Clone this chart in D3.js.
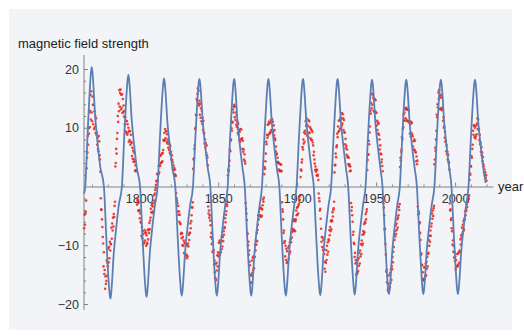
<!DOCTYPE html>
<html>
<head>
<meta charset="utf-8">
<script src="https://cdn.jsdelivr.net/npm/d3@7"></script>
<style>
  body { margin: 0; background: #fff; }
  text { font-family: "Liberation Sans", Arial, sans-serif; }
</style>
</head>
<body>
<div id="chart"></div>
<script>
// axis ticks
const xTicks = [1800, 1850, 1900, 1950, 2000];
const xMinorTicks = [1770, 1780, 1790, 1810, 1820, 1830, 1840, 1860, 1870, 1880, 1890, 1910, 1920, 1930, 1940, 1960, 1970, 1980, 1990, 2010, 2020];
const yTicks = [-20, -10, 10, 20];
const yMinorTicks = [-18, -16, -14, -12, -8, -6, -4, -2, 2, 4, 6, 8, 12, 14, 16, 18];

// red points: signed field estimate, four per year starting at redStart
const redStart = 1765;
const redValues = [
  -7.1,-4.8,-6.5,-4.6, -4.3,-2.4,3.1,4.9, 5.8,8.6,7.1,9.9, 9.0,12.6,10.1,12.9, 15.6,11.4,16.2,12.6,
  11.1,15.3,13.9,10.6, 13.9,9.8,12.8,10.1, 12.0,9.1,11.6,8.8, 9.2,7.1,8.3,6.4, 6.0,8.6,7.7,5.3,
  4.6,2.5,-2.0,-3.9, -4.0,-5.6,-6.9,-8.6, -9.7,-13.6,-11.2,-14.9, -14.2,-17.4,-15.3,-16.6, -16.1,-12.6,-15.2,-13.0,
  -13.6,-10.6,-12.9,-10.3, -12.2,-9.4,-10.9,-9.8, -9.8,-7.0,-8.9,-6.3, -7.5,-5.3,-6.8,-4.7, -5.2,-3.3,-2.6,3.4,
  4.0,6.4,5.6,8.1, 9.1,12.0,11.0,14.1, 12.8,16.4,13.6,15.9, 16.5,13.1,15.6,13.4, 15.7,12.5,14.9,12.7,
  13.8,11.9,12.9,10.6, 11.8,9.4,11.2,9.1, 11.1,8.8,10.6,9.2, 10.0,7.6,9.5,7.9, 9.4,7.1,8.8,7.6,
  7.4,5.2,6.6,4.7, 6.1,4.2,5.8,4.6, 4.2,2.7,3.6,2.6, 2.8,-2.0,-3.1,-2.4, -2.8,-4.1,-2.7,-4.2,
  -4.0,-5.4,-4.6,-6.0, -6.2,-8.4,-6.9,-8.8, -7.6,-9.9,-8.1,-9.5, -9.6,-7.4,-9.2,-7.8, -7.9,-10.1,-8.3,-9.8,
  -9.6,-7.4,-9.0,-7.3, -7.9,-6.2,-7.3,-5.8, -5.3,-3.8,-4.4,-3.2, -2.9,-4.5,-3.4,-4.2, -2.8,-1.5,-2.4,-1.2,
  -0.6,-0.2,0.3,0.9, 1.0,2.1,0.9,2.2, 2.1,3.5,2.4,3.7, 3.5,5.2,4.0,5.4, 4.1,5.6,4.3,5.7,
  6.2,7.9,7.8,9.1, 7.9,9.8,8.2,9.4, 9.4,7.6,8.9,7.3, 8.0,6.6,7.6,6.2, 7.2,5.7,6.9,5.5,
  5.9,4.6,5.3,4.5, 4.1,2.9,3.6,2.8, 3.2,2.1,2.9,1.9, 1.8,-1.1,-2.0,-2.4, -2.8,-4.3,-3.3,-4.8,
  -4.2,-6.0,-4.8,-6.3, -6.4,-8.1,-7.9,-8.8, -8.0,-10.0,-8.6,-10.1, -9.2,-11.3,-9.6,-11.5, -9.6,-11.8,-9.9,-11.6,
  -12.2,-10.0,-11.9,-9.7, -10.2,-8.2,-9.1,-7.9, -7.9,-6.3,-7.1,-5.9, -4.9,-3.5,-3.6,-2.7, 3.0,4.6,4.8,6.4,
  7.0,9.8,10.0,12.2, 12.1,14.9,14.6,15.8, 16.7,14.1,16.3,13.8, 14.6,12.2,14.1,11.7, 13.3,11.1,12.9,10.7,
  11.7,9.6,11.2,9.1, 9.1,7.3,8.0,6.6, 7.4,5.7,7.0,5.3, 4.9,3.6,-3.4,-4.6, -4.1,-5.3,-4.9,-5.8,
  -6.6,-8.6,-7.9,-9.8, -8.9,-11.1,-9.4,-11.2, -10.8,-13.3,-12.6,-14.6, -15.6,-13.2,-15.9,-13.0, -14.3,-11.7,-13.6,-11.2,
  -11.9,-9.6,-11.4,-9.2, -11.6,-9.4,-11.2,-9.3, -10.7,-8.5,-10.2,-8.6, -9.3,-7.6,-8.2,-7.1, -6.9,-5.4,-6.1,-4.8,
  -4.2,-3.0,-3.3,-2.6, 1.9,2.9,2.6,3.5, 4.4,6.3,6.0,7.8, 8.0,9.9,9.5,11.0, 10.9,13.1,12.6,13.6,
  13.9,11.8,13.6,11.3, 12.6,10.5,12.1,10.1, 11.0,9.1,10.7,8.8, 9.6,7.9,9.3,7.6, 9.8,8.0,9.7,8.1,
  8.2,6.4,7.8,5.9, 6.3,4.6,5.5,4.3, 3.9,-2.8,-3.8,-4.6, -5.7,-8.1,-8.0,-10.0, -9.4,-11.6,-10.9,-12.8,
  -13.4,-16.3,-15.0,-16.4, -15.2,-12.6,-14.7,-12.1, -14.2,-11.9,-13.9,-12.0, -12.0,-9.9,-10.9,-9.2, -9.9,-7.9,-9.3,-7.4,
  -6.5,-4.9,-5.6,-4.3, -5.0,-3.7,-4.9,-3.6, -5.2,-3.8,-5.0,-3.9, -3.2,-2.2,-2.6,-1.9, 2.1,3.3,3.0,4.3,
  5.6,7.6,7.2,8.8, 8.3,10.5,8.7,10.6, 11.0,9.0,10.8,9.1, 9.3,11.3,9.6,11.1, 11.5,9.4,11.0,9.3,
  10.4,8.7,9.6,8.2, 7.9,6.0,6.8,5.4, 5.6,4.2,4.9,4.0, 4.1,2.9,3.9,2.7, 2.6,3.8,2.7,3.7,
  2.6,-2.7,-3.9,-4.3, -5.6,-7.9,-7.5,-9.6, -9.3,-11.9,-10.1,-12.5, -10.6,-13.0,-11.0,-12.9, -12.8,-10.4,-12.3,-10.1,
  -11.5,-9.5,-11.1,-9.0, -9.5,-7.8,-8.7,-7.2, -7.6,-5.9,-7.3,-5.6, -7.5,-5.8,-7.6,-5.9, -5.6,-4.1,-4.9,-3.6,
  -4.8,-3.5,-4.6,-3.2, -2.9,-1.7,-2.3,-1.5, 1.6,2.9,2.7,4.1, 4.6,6.7,6.3,8.0, 7.3,9.2,7.6,9.5,
  9.0,11.1,10.3,11.6, 10.6,8.7,10.3,8.5, 11.3,9.2,11.1,9.1, 10.1,8.2,9.8,7.9, 9.6,7.9,9.3,7.5,
  7.0,5.3,5.9,4.6, 3.9,2.8,3.4,2.5, 2.9,1.9,2.8,1.8, 2.0,1.1,-1.2,-2.0, -2.5,-4.1,-3.8,-5.5,
  -7.2,-9.4,-8.6,-10.3, -8.7,-10.8,-9.1,-10.7, -11.5,-14.0,-12.8,-14.5, -13.0,-10.8,-12.5,-10.1, -11.6,-9.5,-11.1,-9.0,
  -9.2,-7.4,-8.3,-6.9, -7.6,-5.9,-7.3,-5.7, -5.9,-4.4,-5.1,-4.0, -3.7,-2.6,2.4,3.6, 3.7,5.6,5.0,6.7,
  7.0,9.0,8.4,10.2, 9.3,11.2,9.5,11.3, 9.8,11.7,10.0,11.5, 10.4,12.5,10.7,12.3, 11.6,9.6,11.3,9.2,
  9.2,7.2,8.1,6.5, 6.9,5.4,6.3,5.0, 5.1,3.8,4.9,3.5, 3.8,2.6,3.4,2.7, -2.8,-4.1,-3.5,-4.9,
  -6.0,-8.2,-7.7,-9.6, -9.8,-12.0,-11.3,-13.1, -12.5,-15.0,-12.9,-14.6, -14.8,-12.5,-14.4,-12.2, -13.5,-11.3,-13.1,-10.9,
  -11.9,-9.8,-11.5,-9.2, -10.0,-8.2,-9.7,-7.6, -8.1,-6.4,-7.8,-6.0, -6.2,-4.7,-5.6,-4.3, -3.9,2.8,4.5,5.4,
  5.5,7.8,7.2,9.2, 10.2,12.9,12.4,14.2, 13.3,15.8,13.9,15.6, 15.1,12.9,14.8,12.7, 14.9,12.8,14.7,12.6,
  12.5,10.4,11.2,9.6, 10.9,9.0,10.7,8.8, 8.0,6.3,7.0,5.6, 5.5,4.1,4.6,3.5, 2.6,-1.8,-2.9,-3.6,
  -4.9,-7.3,-7.2,-9.8, -11.6,-14.5,-14.2,-16.3, -15.2,-17.6,-16.6,-17.9, -17.6,-15.1,-17.2,-14.7, -16.4,-14.1,-15.9,-13.6,
  -14.1,-12.0,-12.9,-11.1, -10.3,-8.2,-9.1,-7.6, -8.5,-6.6,-8.1,-6.3, -7.4,-5.6,-7.0,-5.3, -4.9,-3.5,-4.0,-3.0,
  3.3,4.9,4.4,5.9, 6.3,8.4,8.0,9.8, 10.1,12.3,11.2,12.6, 11.2,13.3,11.6,13.1, 13.4,11.3,13.1,11.1,
  13.2,11.1,13.0,10.9, 11.1,9.0,10.6,8.5, 11.0,9.1,10.8,8.8, 8.5,6.8,7.7,6.3, 8.0,6.2,7.8,5.9,
  5.8,4.3,5.1,3.8, 4.4,-3.4,-4.8,-4.2, -4.6,-6.3,-6.1,-7.9, -9.1,-11.6,-11.4,-13.3, -13.4,-15.7,-14.6,-16.0,
  -15.9,-13.8,-15.7,-13.7, -15.3,-13.1,-15.1,-12.8, -14.0,-12.0,-13.6,-11.5, -11.3,-9.1,-10.1,-8.4, -9.4,-7.5,-8.4,-6.8,
  -6.3,-4.6,-5.5,-4.1, -5.0,-3.7,-3.3,3.8, 4.6,6.6,6.1,8.0, 9.5,12.2,11.8,14.0, 13.5,16.0,14.9,16.4,
  15.4,13.2,15.1,13.1, 15.6,13.4,15.2,13.0, 13.3,11.2,11.8,10.0, 10.2,8.3,9.3,7.6, 7.8,6.0,7.0,5.5,
  5.9,4.6,5.4,4.2, 4.0,2.9,-2.9,-4.1, -3.9,-5.7,-5.4,-7.1, -7.6,-9.9,-9.2,-11.1, -10.1,-12.1,-11.2,-12.7,
  -11.9,-14.1,-12.5,-13.6, -13.5,-11.5,-13.6,-11.4, -13.3,-11.2,-13.0,-10.9, -11.1,-9.0,-9.9,-8.3, -8.7,-7.0,-8.0,-6.5,
  -7.6,-5.9,-7.3,-5.5, -5.6,-4.2,-4.9,-3.8, -4.1,-3.0,-3.5,-2.6, -2.6,-1.7,-2.1,-1.5, 1.1,2.2,2.0,3.5,
  3.4,5.2,4.9,6.4, 7.1,9.5,8.8,10.4, 10.3,8.4,10.0,8.2, 8.6,10.4,8.9,10.7, 11.6,9.8,11.4,9.6,
  9.8,7.9,8.8,7.2, 7.5,5.9,6.7,5.3, 5.8,4.3,5.0,3.8, 3.4,2.4,2.9,2.0, 2.4,1.5,1.9,1.0
];

// blue model curve: [year, value]
const blueCurve = [
  [1765.0,-1.2],
  [1765.8,0],[1767.3,9.1],[1768.6,16.2],[1769.5,19.7],[1770.0,20.3],[1770.7,18.3],[1772.0,12.2],[1773.5,7.7],[1775.2,3.5],
  [1777.6,0],[1779.1,-8.6],[1780.4,-15.3],[1781.3,-18.5],[1781.8,-19.1],[1782.5,-17.2],[1783.8,-11.5],[1785.3,-7.3],[1787.0,-3.2],
  [1789.0,0],[1790.5,8.6],[1791.8,15.2],[1792.7,18.4],[1793.2,19.0],[1793.9,17.1],[1795.2,11.4],[1796.7,7.2],[1798.4,3.2],
  [1800.5,0],[1802.0,-8.5],[1803.3,-15.0],[1804.2,-18.2],[1804.7,-18.8],[1805.4,-16.9],[1806.7,-11.3],[1808.2,-7.1],[1809.9,-3.2],
  [1811.6,0],[1813.1,8.3],[1814.4,14.7],[1815.3,17.8],[1815.8,18.4],[1816.5,16.6],[1817.8,11.0],[1819.3,7.0],[1821.0,3.1],
  [1822.8,0],[1824.3,-8.4],[1825.6,-14.9],[1826.5,-18.0],[1827.0,-18.6],[1827.7,-16.7],[1829.0,-11.2],[1830.5,-7.1],[1832.2,-3.2],
  [1834.0,0],[1835.5,8.2],[1836.8,14.6],[1837.7,17.8],[1838.2,18.3],[1838.9,16.5],[1840.2,11.0],[1841.7,7.0],[1843.4,3.1],
  [1845.0,0],[1846.5,-8.4],[1847.8,-14.9],[1848.7,-18.0],[1849.2,-18.6],[1849.9,-16.7],[1851.2,-11.2],[1852.7,-7.1],[1854.4,-3.2],
  [1856.0,0],[1857.5,8.2],[1858.8,14.6],[1859.7,17.8],[1860.2,18.3],[1860.9,16.5],[1862.2,11.0],[1863.7,7.0],[1865.4,3.1],
  [1866.8,0],[1868.3,-8.4],[1869.6,-14.9],[1870.5,-18.0],[1871.0,-18.6],[1871.7,-16.7],[1873.0,-11.2],[1874.5,-7.1],[1876.2,-3.2],
  [1877.7,0],[1879.2,8.2],[1880.5,14.6],[1881.4,17.8],[1881.9,18.3],[1882.6,16.5],[1883.9,11.0],[1885.4,7.0],[1887.1,3.1],
  [1888.7,0],[1890.2,-8.4],[1891.5,-14.9],[1892.4,-18.0],[1892.9,-18.6],[1893.6,-16.7],[1894.9,-11.2],[1896.4,-7.1],[1898.1,-3.2],
  [1899.6,0],[1901.1,8.2],[1902.4,14.6],[1903.3,17.8],[1903.8,18.3],[1904.5,16.5],[1905.8,11.0],[1907.3,7.0],[1909.0,3.1],
  [1910.5,0],[1912.0,-8.3],[1913.3,-14.8],[1914.2,-17.9],[1914.7,-18.5],[1915.4,-16.7],[1916.7,-11.1],[1918.2,-7.0],[1919.9,-3.1],
  [1921.5,0],[1923.0,8.2],[1924.3,14.6],[1925.2,17.8],[1925.7,18.3],[1926.4,16.5],[1927.7,11.0],[1929.2,7.0],[1930.9,3.1],
  [1932.3,0],[1933.8,-8.3],[1935.1,-14.7],[1936.0,-17.8],[1936.5,-18.4],[1937.2,-16.6],[1938.5,-11.0],[1940.0,-7.0],[1941.7,-3.1],
  [1943.3,0],[1944.8,8.2],[1946.1,14.6],[1947.0,17.7],[1947.5,18.2],[1948.2,16.4],[1949.5,10.9],[1951.0,6.9],[1952.7,3.1],
  [1954.0,0],[1955.5,-8.2],[1956.8,-14.6],[1957.7,-17.8],[1958.2,-18.3],[1958.9,-16.5],[1960.2,-11.0],[1961.7,-7.0],[1963.4,-3.1],
  [1965.0,0],[1966.5,8.2],[1967.8,14.6],[1968.7,17.7],[1969.2,18.2],[1969.9,16.4],[1971.2,10.9],[1972.7,6.9],[1974.4,3.1],
  [1975.8,0],[1977.3,-8.2],[1978.6,-14.6],[1979.5,-17.8],[1980.0,-18.3],[1980.7,-16.5],[1982.0,-11.0],[1983.5,-7.0],[1985.2,-3.1],
  [1986.9,0],[1988.4,8.2],[1989.7,14.6],[1990.6,17.7],[1991.1,18.2],[1991.8,16.4],[1993.1,10.9],[1994.6,6.9],[1996.3,3.1],
  [1997.7,0],[1999.2,-8.2],[2000.5,-14.6],[2001.4,-17.8],[2001.9,-18.3],[2002.6,-16.5],[2003.9,-11.0],[2005.4,-7.0],[2007.1,-3.1],
  [2008.5,0],[2010.0,8.2],[2011.3,14.6],[2012.2,17.7],[2012.7,18.2],[2013.4,16.4],[2014.7,10.9],[2016.2,6.9],[2017.9,3.1],[2019.4,0.6]
];

const width = 524, height = 336;
const svg = d3.select('#chart').append('svg').attr('width', width).attr('height', height);

// light panel behind the plot
svg.append('rect').attr('x', 9).attr('y', 9).attr('width', 503).attr('height', 321).attr('fill', '#f2f4f7');

const x = d3.scaleLinear().domain([1765, 2024]).range([84, 493]);
const y = d3.scaleLinear().domain([-20, 20]).range([304, 69]);

const axisColor = '#666';

// x axis at y = 0
svg.append('g').attr('transform', `translate(0,${y(0)})`)
  .call(d3.axisBottom(x).tickValues(xTicks).tickFormat(d3.format('d')).tickSizeInner(-4).tickSizeOuter(0).tickPadding(8));
svg.append('g').attr('transform', `translate(0,${y(0)})`)
  .call(d3.axisBottom(x).tickValues(xMinorTicks).tickFormat('').tickSizeInner(-2).tickSizeOuter(0))
  .select('.domain').remove();

// y axis at left edge
const yAxis = svg.append('g').attr('transform', `translate(${x(1765)},0)`)
  .call(d3.axisLeft(y).tickValues(yTicks).tickFormat(d => d < 0 ? '\u2212' + Math.abs(d) : d).tickSizeInner(-4).tickSizeOuter(0).tickPadding(5));
yAxis.select('.domain').attr('d', `M0,55V310`);
svg.append('g').attr('transform', `translate(${x(1765)},0)`)
  .call(d3.axisLeft(y).tickValues(yMinorTicks).tickFormat('').tickSizeInner(-2).tickSizeOuter(0))
  .select('.domain').remove();

svg.selectAll('.domain, .tick line').attr('stroke', axisColor).attr('stroke-width', 0.8);
svg.selectAll('.tick text').attr('fill', '#333').style('font-size', '12.5px').style('font-family', '"Liberation Sans", Arial, sans-serif');

// red data points
const redPoints = redValues.map((v, i) => ({ year: redStart + i * 0.25 + 0.125, value: v }));
svg.append('g')
  .selectAll('circle')
  .data(redPoints)
  .enter()
  .append('circle')
    .attr('cx', d => x(d.year))
    .attr('cy', d => y(d.value))
    .attr('r', 1.3)
    .style('fill', '#e8251c')
    .style('opacity', 0.85);

// blue model line
svg.append('path')
  .datum(blueCurve)
  .attr('fill', 'none')
  .attr('stroke', '#5b7fb5')
  .attr('stroke-width', 1.8)
  .attr('d', d3.line().x(d => x(d[0])).y(d => y(d[1])).curve(d3.curveMonotoneX));

// axis titles
svg.append('text').text('magnetic field strength')
  .attr('x', 18).attr('y', 48).attr('fill', '#222').style('font-size', '13px');
svg.append('text').text('year')
  .attr('x', 498).attr('y', 191).attr('fill', '#222').style('font-size', '13px');
</script>
</body>
</html>
